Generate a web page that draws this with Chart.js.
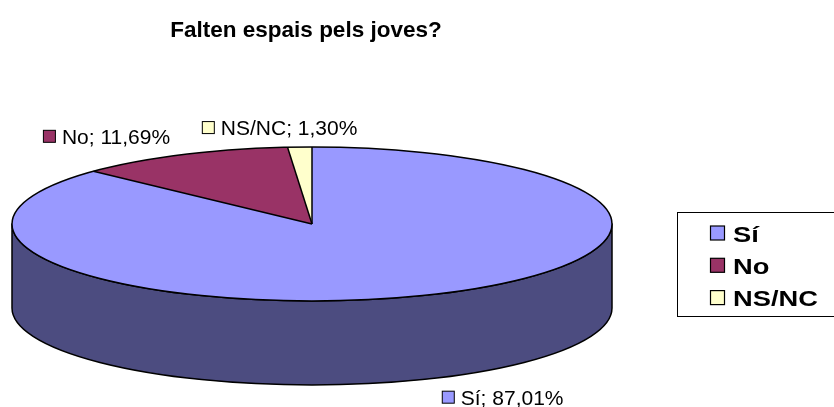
<!DOCTYPE html>
<html>
<head>
<meta charset="utf-8">
<script src="https://cdn.jsdelivr.net/npm/chart.js@4"></script>
<style>
  html, body { margin: 0; padding: 0; background: #ffffff; }
  #wrap { width: 834px; height: 407px; position: relative; }
</style>
</head>
<body>
<div id="wrap"><canvas id="c" width="834" height="407"></canvas></div>
<script>
// ---- data ----
const chartTitle = 'Falten espais pels joves?';
const categories = ['Sí', 'No', 'NS/NC'];
const values = [87.01, 11.69, 1.30];
const topColors = ['#9999FF', '#993366', '#FFFFCC'];
const sideColors = ['#4C4C80', '#4D1A33', '#808066'];

// ---- layout (3D projection of the pie) ----
const CX = 312, CY = 224, RX = 300, RY = 77, DEPTH = 84;
const FONT = '"Liberation Sans", Arial, Helvetica, sans-serif';

function fmt(v) { return v.toFixed(2).replace('.', ',') + '%'; }

function arcsOf(chart) {
  return chart.getDatasetMeta(0).data.map(a =>
    a.getProps(['x', 'y', 'startAngle', 'endAngle', 'outerRadius'], true));
}

const pie3d = {
  id: 'pie3d',
  beforeDatasetsDraw(chart) {
    const ctx = chart.ctx;
    const arcs = arcsOf(chart);
    // side walls (front half only)
    arcs.forEach((a, i) => {
      [-2 * Math.PI, 0, 2 * Math.PI].forEach(k => {
        const a0 = Math.max(a.startAngle, k), a1 = Math.min(a.endAngle, k + Math.PI);
        if (a1 <= a0) return;
        ctx.save();
        ctx.beginPath();
        ctx.ellipse(CX, CY, RX, RY, 0, a0, a1, false);
        ctx.lineTo(CX + RX * Math.cos(a1), CY + RY * Math.sin(a1) + DEPTH);
        ctx.ellipse(CX, CY + DEPTH, RX, RY, 0, a1, a0, true);
        ctx.closePath();
        ctx.fillStyle = sideColors[i];
        ctx.fill();
        ctx.lineWidth = 1.5;
        ctx.strokeStyle = '#000';
        ctx.lineJoin = 'round';
        ctx.stroke();
        ctx.restore();
      });
    });
  },
  beforeDatasetDraw(chart) {
    const ctx = chart.ctx;
    const a = arcsOf(chart)[0];
    ctx.save();
    ctx.translate(CX, CY);
    ctx.scale(RX / a.outerRadius, RY / a.outerRadius);
    ctx.translate(-a.x, -a.y);
  },
  afterDatasetDraw(chart) {
    chart.ctx.restore();
  },
  afterDatasetsDraw(chart) {
    const ctx = chart.ctx;
    const arcs = arcsOf(chart);
    ctx.save();
    ctx.strokeStyle = '#000';
    ctx.lineWidth = 1.5;
    ctx.lineJoin = 'round';
    // top outline
    ctx.beginPath();
    ctx.ellipse(CX, CY, RX, RY, 0, 0, Math.PI * 2);
    ctx.stroke();
    // radial boundaries
    arcs.forEach(a => {
      ctx.beginPath();
      ctx.moveTo(CX, CY);
      ctx.lineTo(CX + RX * Math.cos(a.startAngle), CY + RY * Math.sin(a.startAngle));
      ctx.stroke();
    });
    ctx.restore();

    // data labels
    ctx.save();
    ctx.font = '21px ' + FONT;
    ctx.textBaseline = 'alphabetic';
    ctx.textAlign = 'left';
    arcs.forEach((a, i) => {
      const mid = (a.startAngle + a.endAngle) / 2;
      const c = Math.cos(mid), s = Math.sin(mid);
      const ax = CX + (RX + 27) * c;
      const ay = CY + (RY + 12) * s + (s > 0 ? DEPTH : 0);
      const text = categories[i] + '; ' + fmt(values[i]);
      const tw = ctx.measureText(text).width;
      const w = 13 + 6 + tw;
      const t = Math.min(1, Math.max(0, 0.5 - 3 * c));
      const left = ax - w * t;
      const base = s < 0 ? ay : ay + 15;
      ctx.fillStyle = topColors[i];
      ctx.fillRect(left + 0.5, base - 13.5, 12, 12);
      ctx.strokeStyle = '#000';
      ctx.lineWidth = 1;
      ctx.strokeRect(left + 0.5, base - 13.5, 12, 12);
      ctx.fillStyle = '#000';
      ctx.fillText(text, left + 19, base);
    });
    ctx.restore();

    // title
    ctx.save();
    ctx.font = 'bold 22.5px ' + FONT;
    ctx.fillStyle = '#000';
    ctx.textAlign = 'center';
    ctx.fillText(chartTitle, 306, 37);
    ctx.restore();

    // legend
    ctx.save();
    ctx.strokeStyle = '#000';
    ctx.lineWidth = 1;
    ctx.strokeRect(677.5, 212.5, 170, 104);
    ctx.font = 'bold 22px ' + FONT;
    categories.forEach((cat, i) => {
      const base = 241.5 + i * 32.3;
      ctx.fillStyle = topColors[i];
      ctx.fillRect(710.5, base - 15.5, 14, 14);
      ctx.strokeStyle = '#000';
      ctx.lineWidth = 1.2;
      ctx.strokeRect(710.5, base - 15.5, 14, 14);
      ctx.fillStyle = '#000';
      ctx.save();
      ctx.translate(733, base);
      ctx.scale(1.24, 1);
      ctx.fillText(cat, 0, 0);
      ctx.restore();
    });
    ctx.restore();
  }
};

new Chart(document.getElementById('c'), {
  type: 'pie',
  data: {
    labels: categories,
    datasets: [{
      data: values,
      backgroundColor: topColors,
      borderWidth: 0,
      hoverOffset: 0,
      offset: 0
    }]
  },
  options: {
    responsive: false,
    animation: false,
    events: [],
    layout: { padding: 0 },
    plugins: {
      legend: { display: false },
      title: { display: false },
      tooltip: { enabled: false }
    }
  },
  plugins: [pie3d]
});
</script>
</body>
</html>
